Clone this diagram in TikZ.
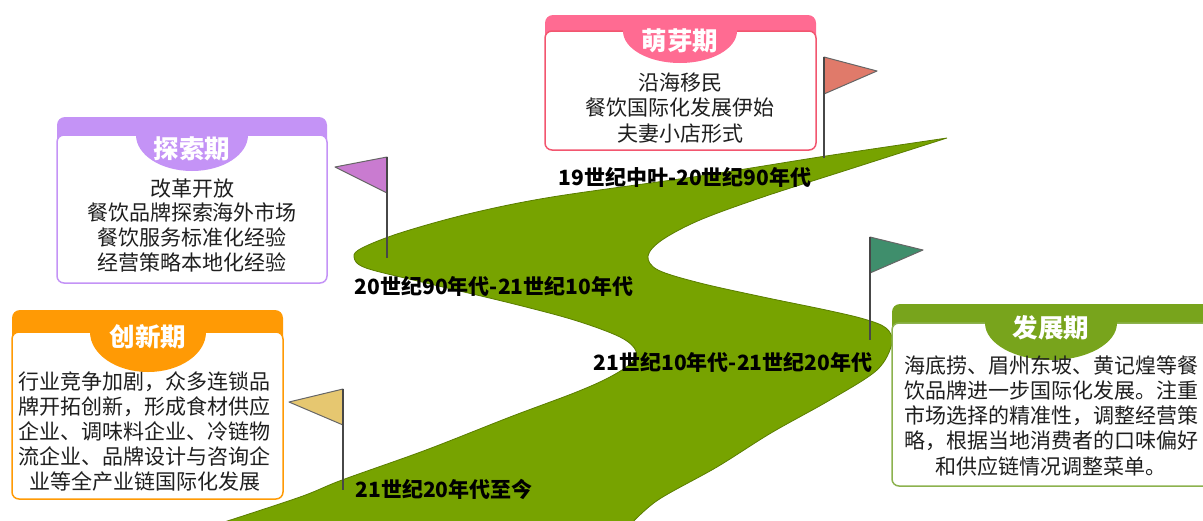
\documentclass[tikz,border=0pt]{standalone}
\usepackage{fontspec}
\setmainfont{Noto Sans CJK SC}
\definecolor{roadgreen}{HTML}{77A300}
\definecolor{roadedge}{HTML}{5A7D00}
\definecolor{sprout}{HTML}{FF6B92}
\definecolor{sproutedge}{HTML}{F2566F}
\definecolor{explore}{HTML}{C493F6}
\definecolor{innov}{HTML}{FF9A05}
\definecolor{develop}{HTML}{78A41C}
\definecolor{developedge}{HTML}{8CB24E}
\definecolor{flagA}{HTML}{E07A6A}
\definecolor{flagB}{HTML}{C97BD0}
\definecolor{flagC}{HTML}{3F8E6C}
\definecolor{flagD}{HTML}{E6C770}
\begin{document}
\begin{tikzpicture}[x=1pt,y=-1pt,
  bodytext/.style={anchor=base, inner sep=0pt, font=\fontsize{21}{25}\selectfont, text=black!88},
  titletext/.style={anchor=base, inner sep=0pt, font=\bfseries\fontsize{25.5}{25.5}\selectfont, text=white},
  datelabel/.style={anchor=base, inner sep=0pt, font=\bfseries\fontsize{21}{21}\selectfont, text=black},
  flagpole/.style={draw=black!72, line width=2pt},
  flagcloth/.style={draw=black!60, line width=1pt, line join=round}]
\useasboundingbox (0,0) rectangle (1203,520);
\clip (0,0) rectangle (1203,520);

% winding road
\filldraw[fill=roadgreen, draw=roadedge, line width=0.8pt]
  plot[smooth, tension=0.55] coordinates {(947,138) (826,156) (700,176) (552,197) (468,214) (400,233) (362,248) (354,257) (366,268) (426,283) (510,303) (574,320) (620,337) (636,351) (630,364) (608,378) (574,393) (510,417) (426,450) (342,480) (300,497) (215,525)}
  -- (630,525)
  -- plot[smooth, tension=0.55] coordinates {(630,525) (658,500) (717,467) (771,433) (830,400) (877,370) (892,343) (886,328) (864,319) (826,310) (763,297) (700,283) (658,270) (648,256) (662,240) (700,220) (763,197) (847,170) (947,138)}
  -- cycle;

% flags
\coordinate (fa-top) at (824,57);   \coordinate (fa-foot) at (824,158);
\coordinate (fb-top) at (387,157);  \coordinate (fb-foot) at (387,258);
\coordinate (fc-top) at (870,237);  \coordinate (fc-foot) at (870,340);
\coordinate (fd-top) at (343,389);  \coordinate (fd-foot) at (343,490);
\filldraw[flagcloth, fill=flagA] (fa-top) -- (877,71) -- (824,94) -- cycle;
\filldraw[flagcloth, fill=flagB] (fb-top) -- (335,167) -- (387,193) -- cycle;
\filldraw[flagcloth, fill=flagC] (fc-top) -- (923,250) -- (870,273) -- cycle;
\filldraw[flagcloth, fill=flagD] (fd-top) -- (289,402) -- (343,425) -- cycle;
\draw[flagpole] (fa-top) -- (fa-foot);
\draw[flagpole] (fb-top) -- (fb-foot);
\draw[flagpole] (fc-top) -- (fc-foot);
\draw[flagpole] (fd-top) -- (fd-foot);

% period labels
\node[datelabel] (date-a) at (685,185) {19世纪中叶-20世纪90年代};
\node[datelabel] (date-b) at (494,294) {20世纪90年代-21世纪10年代};
\node[datelabel] (date-c) at (733,370) {21世纪10年代-21世纪20年代};
\node[datelabel] (date-d) at (444,497) {21世纪20年代至今};

% stage 1: sprouting
\fill[sprout, rounded corners=8pt] (545,15) rectangle (816,45);
\filldraw[fill=white, draw=sproutedge, line width=1.5pt, rounded corners=7pt] (545,31) rectangle (816,150);
\fill[sprout] (623,30) -- (623,31) arc[start angle=180, end angle=0, x radius=57, y radius=32] -- (737,30) -- cycle;
\node[titletext] (sprout-title) at (680,50.5) {萌芽期};
\foreach \t [count=\i] in {沿海移民,餐饮国际化发展伊始,夫妻小店形式}
  \node[bodytext] (sprout-\i) at (680,{90+25.5*(\i-1)}) {\t};

% stage 2: exploring
\fill[explore, rounded corners=8pt] (57,117) rectangle (327,147);
\filldraw[fill=white, draw=explore, line width=1.5pt, rounded corners=7pt] (57,135) rectangle (327,283);
\fill[explore] (136,134) -- (136,135) arc[start angle=180, end angle=0, x radius=56, y radius=36] -- (248,134) -- cycle;
\node[titletext] (explore-title) at (192,158.5) {探索期};
\foreach \t [count=\i] in {改革开放,餐饮品牌探索海外市场,餐饮服务标准化经验,经营策略本地化经验}
  \node[bodytext] (explore-\i) at (192,{196+24.7*(\i-1)}) {\t};

% stage 3: innovating
\fill[innov, rounded corners=8pt] (12,310) rectangle (283,344);
\filldraw[fill=white, draw=innov, line width=1.5pt, rounded corners=7pt] (12,332) rectangle (283,499);
\fill[innov] (90,331) -- (90,332) arc[start angle=180, end angle=0, x radius=58, y radius=40] -- (206,331) -- cycle;
\node[titletext] (innov-title) at (148,346.5) {创新期};
\foreach \t [count=\i] in {行业竞争加剧，众多连锁品,牌开拓创新，形成食材供应,企业、调味料企业、冷链物,流企业、品牌设计与咨询企,业等全产业链国际化发展}
  \node[bodytext] (innov-\i) at (145,{389+25*(\i-1)}) {\t};

% stage 4: developing
\fill[develop, rounded corners=8pt] (892,304) rectangle (1212,335);
\filldraw[fill=white, draw=developedge, line width=1.5pt, rounded corners=7pt] (892,323) rectangle (1212,486);
\fill[develop] (985,322) -- (985,323) arc[start angle=180, end angle=0, x radius=66, y radius=37] -- (1117,322) -- cycle;
\node[titletext] (develop-title) at (1051,337.5) {发展期};
\foreach \t [count=\i] in {海底捞、眉州东坡、黄记煌等餐,饮品牌进一步国际化发展。注重,市场选择的精准性，调整经营策,略，根据当地消费者的口味偏好,和供应链情况调整菜单。}
  \node[bodytext] (develop-\i) at (1051,{373+25.3*(\i-1)}) {\t};
\end{tikzpicture}
\end{document}
